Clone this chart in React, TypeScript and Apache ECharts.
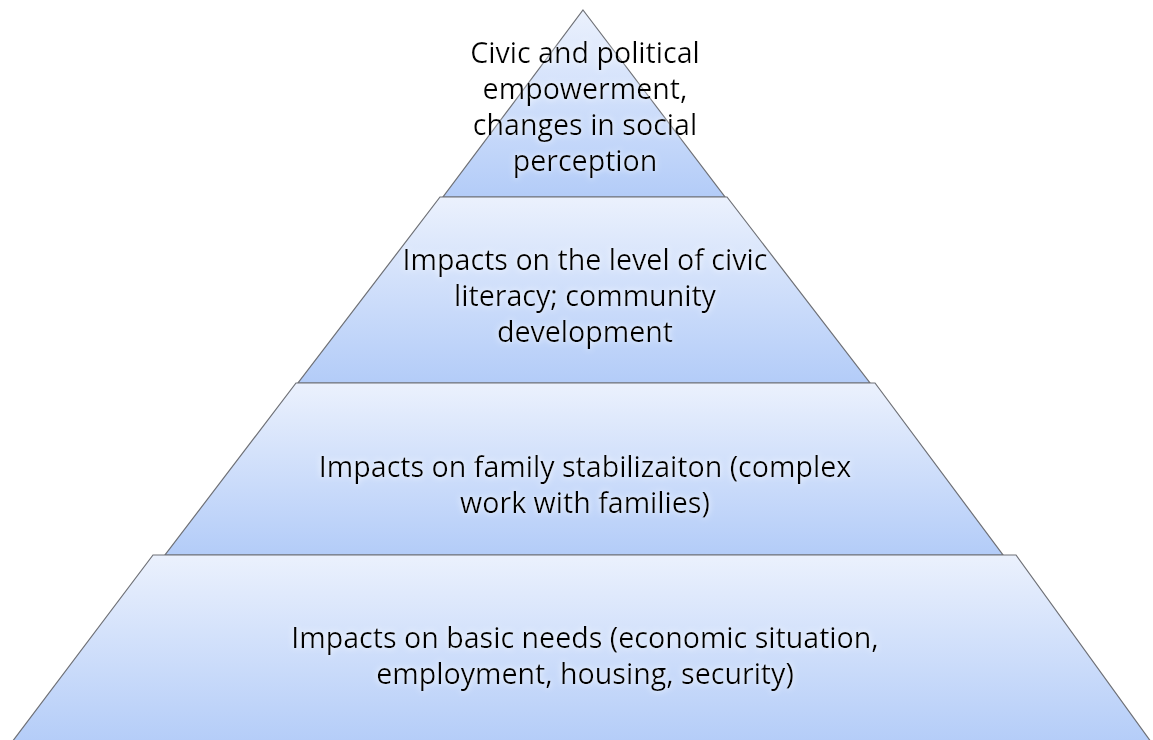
import React, { useEffect, useRef } from "react";
import * as echarts from "echarts";

// Level texts, top to bottom
const levelLabels: string[][] = [
  ["Civic and political", "empowerment,", "changes in social", "perception"],
  ["Impacts on the level of civic", "literacy; community", "development"],
  ["Impacts on family stabilizaiton (complex", "work with families)"],
  ["Impacts on basic needs (economic situation,", "employment, housing, security)"],
];

// Shape geometry (pixels): [topLeftX, topRightX, topY, bottomLeftX, bottomRightX, bottomY]
const levelShapes: number[][] = [
  [583, 583, 10, 443, 725, 197],
  [440, 727, 197, 298, 870, 383],
  [296, 875, 383, 165, 1003, 555],
  [153, 1016, 555, 9, 1154, 746],
];

// Text layout: first line center y, line height
const textTops: number[] = [51, 258, 465, 636];
const LINE_H = 36;
const FONT_SIZE = 28.6;
const CENTER_X = 585;

export default function App() {
  const ref = useRef<HTMLDivElement>(null);

  useEffect(() => {
    if (!ref.current) return;
    const chart = echarts.init(ref.current, null, { renderer: "svg" });

    const elements: any[] = [];
    levelShapes.forEach((s) => {
      const [tl, tr, ty, bl, br, by] = s;
      elements.push({
        type: "polygon",
        shape: {
          points: [
            [tl, ty],
            [tr, ty],
            [br, by],
            [bl, by],
          ],
        },
        style: {
          fill: new echarts.graphic.LinearGradient(0, 0, 0, 1, [
            { offset: 0, color: "#ebf1fd" },
            { offset: 1, color: "#b3ccf8" },
          ]),
          stroke: "#6e7076",
          lineWidth: 1.2,
        },
      });
    });

    levelLabels.forEach((lines, i) => {
      lines.forEach((line, j) => {
        elements.push({
          type: "text",
          x: CENTER_X,
          y: textTops[i] + j * LINE_H,
          style: {
            text: line,
            fill: "#000000",
            font: `${FONT_SIZE}px "Open Sans", "Noto Sans", sans-serif`,
            align: "center",
            verticalAlign: "middle",
            textShadowColor: "rgba(255,255,255,0.95)",
            textShadowBlur: 6,
          },
        });
      });
    });

    chart.setOption({
      animation: false,
      backgroundColor: "#ffffff",
      graphic: { elements },
    });

    return () => chart.dispose();
  }, []);

  return (
    <div
      ref={ref}
      style={{ position: "fixed", left: 0, top: 0, width: 1153, height: 740 }}
    />
  );
}
